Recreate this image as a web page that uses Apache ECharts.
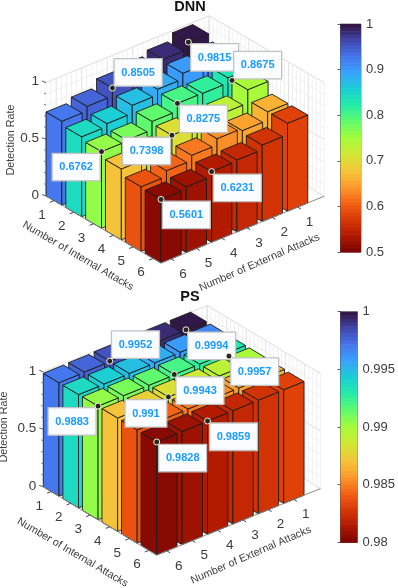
<!DOCTYPE html>
<html>
<head>
<meta charset="utf-8">
<title>Detection rate</title>
<script src="https://cdn.jsdelivr.net/npm/echarts@6/dist/echarts.min.js"></script>
<style>
  html, body { margin: 0; padding: 0; background: #fff; }
  #chart { width: 398px; height: 588px; }
</style>
</head>
<body>
<div id="chart"></div>
<script>
// rows = internal attacks 1..6, columns = external attacks 1..6
const internalAttacks = [1, 2, 3, 4, 5, 6];
const externalAttacks = [1, 2, 3, 4, 5, 6];
const dnnRate = [
  [0.9815, 0.92, 0.88, 0.8505, 0.78, 0.74],
  [0.93, 0.9, 0.85, 0.8, 0.73, 0.705],
  [0.87, 0.825, 0.8275, 0.76, 0.686, 0.6762],
  [0.8675, 0.75, 0.74, 0.7398, 0.67, 0.625],
  [0.775, 0.7, 0.72, 0.665, 0.62, 0.57],
  [0.775, 0.675, 0.634, 0.6231, 0.58, 0.5601]
];
const psRate = [
  [0.9994, 0.998, 0.996, 0.9952, 0.99, 0.987],
  [0.998, 0.996, 0.993, 0.991, 0.988, 0.986],
  [0.996, 0.995, 0.9943, 0.99, 0.989, 0.9883],
  [0.9957, 0.994, 0.992, 0.991, 0.988, 0.987],
  [0.993, 0.991, 0.99, 0.988, 0.986, 0.985],
  [0.989, 0.988, 0.987, 0.9859, 0.984, 0.9828]
];
const rateTicks = [0, 0.5, 1];
const rateMinorTicks = [0.1, 0.2, 0.3, 0.4, 0.6, 0.7, 0.8, 0.9];
// internal, external, label dx, label dy, label width
const dnnTips = [
  [1, 4, 1.7, -29.3, 48], [1, 1, 2.3, 1.6, 48], [4, 1, 1.7, -29, 48], [3, 3, 2, 1.7, 48],
  [4, 4, -49.4, 2, 48], [3, 6, -49.4, 1.7, 48], [6, 4, 1.7, 2.6, 48], [6, 6, 1.3, 1.7, 48]
];
const psTips = [
  [1, 4, 1.7, -30.4, 48], [1, 1, 1.7, 2.3, 48], [4, 1, 1.7, 1.7, 48], [3, 3, 1.7, 2.3, 48],
  [4, 4, -43.3, 2.6, 41.7], [3, 6, -50, 1.6, 48], [6, 4, 2, 2, 48], [6, 6, 2, 2.3, 48]
];

const turbo = ['#30123b', '#4145ab', '#4675ed', '#39a2fc', '#1bcfd4', '#24eca6', '#61fc6c', '#a4fc3b',
  '#d1e834', '#f3c63a', '#fe9b2d', '#f36315', '#d93806', '#b11901', '#7a0403'];
const barWidth = 0.8;
const iMin = 0.6, iMax = 6.4, eMin = -0.05, eMax = 6.4;
const font = '"Liberation Sans", Arial, sans-serif';
const tickColor = '#3c3c3c';

const panels = [
  {
    name: 'DNN', rate: dnnRate, tips: dnnTips, front: [161, 263], ui: [19.83, 11.55], ue: [-25.3, 10.35], zs: 113.5,
    top: 24, bottom: 336, cMin: 0.5, cMax: 1, cStep: 0.1, titleY: -6,
    internalName: [78, 256], externalName: [259.5, 262.5], rateName: [11, 140]
  },
  {
    name: 'PS', rate: psRate, tips: psTips, front: [156.7, 555], ui: [19.55, 11.75], ue: [-25.4, 10.3], zs: 115,
    top: 311.7, bottom: 45.7, cMin: 0.98, cMax: 1, cStep: 0.005, titleY: 284,
    internalName: [72.5, 552.5], externalName: [251, 555], rateName: [4, 427]
  }
];

// oblique view of (internal, external, rate) onto the page
function project(p, i, e, z) {
  return [
    p.front[0] + (i - iMax) * p.ui[0] + (e - eMax) * p.ue[0],
    p.front[1] + (i - iMax) * p.ui[1] + (e - eMax) * p.ue[1] - z * p.zs
  ];
}

function line(a, b, stroke, lineWidth) {
  return {
    type: 'line',
    shape: { x1: a[0], y1: a[1], x2: b[0], y2: b[1] },
    style: { stroke: stroke, lineWidth: lineWidth || 1 }
  };
}

function label(text, pos, size, align, rotation, weight) {
  return {
    type: 'text', x: pos[0], y: pos[1], rotation: rotation || 0,
    style: {
      text: text, fill: tickColor, align: align || 'center', verticalAlign: 'middle',
      font: (weight || 'normal') + ' ' + size + 'px ' + font
    }
  };
}

function wallSeries(p) {
  return {
    type: 'custom', coordinateSystem: 'none', silent: true, animation: false, z: 1,
    data: [[0]],
    renderItem: function () {
      const kids = [];
      for (let z = 0; z <= 10; z++) {
        const c = z % 5 === 0 ? '#dcdcdc' : '#f0f0f0';
        kids.push(line(project(p, iMin, eMax, z / 10), project(p, iMin, eMin, z / 10), c));
        kids.push(line(project(p, iMin, eMin, z / 10), project(p, iMax, eMin, z / 10), c));
      }
      for (let k = 0; k <= 32; k++) {
        const e = eMin + (eMax - eMin) * k / 32;
        kids.push(line(project(p, iMin, e, 0), project(p, iMin, e, 1), k % 5 === 0 ? '#e2e2e2' : '#f0f0f0'));
      }
      for (let k = 0; k <= 29; k++) {
        const i = iMin + (iMax - iMin) * k / 29;
        kids.push(line(project(p, i, eMin, 0), project(p, i, eMin, 1), k % 5 === 0 ? '#e2e2e2' : '#f0f0f0'));
      }
      return { type: 'group', children: kids };
    }
  };
}

function barSeries(p) {
  const data = [];
  internalAttacks.forEach(function (i, r) {
    externalAttacks.forEach(function (e, c) {
      data.push([i, e, p.rate[r][c]]);
    });
  });
  return {
    type: 'custom', coordinateSystem: 'none', silent: true, animation: false, z: 2,
    data: data,
    renderItem: function (params, api) {
      const i = api.value(0), e = api.value(1), z = api.value(2), h = barWidth / 2;
      const fill = echarts.color.lerp(((i - 1) * 6 + (e - 1) + 0.3) / 36, turbo);
      const b = [project(p, i - h, e + h, 0), project(p, i + h, e + h, 0), project(p, i + h, e - h, 0)];
      const t = [project(p, i - h, e + h, z), project(p, i + h, e + h, z), project(p, i + h, e - h, z), project(p, i - h, e - h, z)];
      const edge = { fill: fill, stroke: '#1c1c1c', lineWidth: 0.9 };
      return {
        type: 'group',
        children: [
          { type: 'polygon', shape: { points: [b[0], b[1], t[1], t[0]] }, style: edge },
          { type: 'polygon', shape: { points: [b[1], b[2], t[2], t[1]] }, style: edge },
          { type: 'polygon', shape: { points: t }, style: edge }
        ]
      };
    }
  };
}

function axisSeries(p) {
  return {
    type: 'custom', coordinateSystem: 'none', silent: true, animation: false, z: 3,
    data: [[0]],
    renderItem: function () {
      const kids = [];
      const leftFoot = project(p, iMin, eMax, 0);
      rateTicks.forEach(function (v) {
        const a = project(p, iMin, eMax, v);
        kids.push(line(a, [a[0] - 4, a[1] - 1.5], '#555'));
        kids.push(label(String(v), [a[0] - 7, a[1] - 1], 13.5, 'right'));
      });
      rateMinorTicks.forEach(function (v) {
        const a = project(p, iMin, eMax, v);
        kids.push(line(a, [a[0] - 2, a[1] - 1], '#777'));
      });
      kids.push(line(leftFoot, project(p, iMax, eMax, 0), '#8a8a8a'));
      kids.push(line(project(p, iMax, eMax, 0), project(p, iMax, eMin, 0), '#8a8a8a'));
      internalAttacks.forEach(function (i) {
        const a = project(p, i, eMax, 0);
        kids.push(line(a, project(p, i, eMax + 0.16, 0), '#444'));
        kids.push(label(String(i), [a[0] - 12, a[1] + 14.4], 13.5));
      });
      externalAttacks.forEach(function (e) {
        const a = project(p, iMax, e, 0);
        kids.push(line(a, project(p, iMax + 0.16, e, 0), '#444'));
        kids.push(label(String(e), [a[0] + 12, a[1] + 15], 13.5));
      });
      kids.push(label('Number of Internal Attacks', p.internalName, 10.7, 'center', -0.53));
      kids.push(label('Number of External Attacks', p.externalName, 10.7, 'center', 0.41));
      kids.push(label('Detection Rate', p.rateName, 10.7, 'center', Math.PI / 2));
      return { type: 'group', children: kids };
    }
  };
}

function tipSeries(p) {
  return {
    type: 'custom', coordinateSystem: 'none', silent: true, animation: false, z: 4,
    data: p.tips,
    renderItem: function (params, api) {
      const i = api.value(0), e = api.value(1), dx = api.value(2), dy = api.value(3), w = api.value(4);
      const v = p.rate[i - 1][e - 1], h = barWidth / 2;
      // the (4, 1) tip in the figure sits on the left corner of the bar top
      const m = e === 1 && i === 4 ? project(p, i - h, e + h, v) : project(p, i + h, e + h, v);
      return {
        type: 'group',
        children: [
          {
            type: 'rect',
            shape: { x: m[0] + dx, y: m[1] + dy, width: w, height: 27.5 },
            style: { fill: '#fbfcff', stroke: '#c2c2c2', lineWidth: 1.3 }
          },
          {
            type: 'text',
            style: {
              x: m[0] + dx + w / 2, y: m[1] + dy + 14, text: String(v), fill: '#1a9bff',
              align: 'center', verticalAlign: 'middle', font: 'bold 11px ' + font
            }
          },
          {
            type: 'circle',
            shape: { cx: m[0], cy: m[1], r: 3 },
            style: { fill: '#262626', stroke: '#f5f3da', lineWidth: 1 }
          }
        ]
      };
    }
  };
}

const grid = [], xAxis = [], yAxis = [], series = [], title = [];
panels.forEach(function (p, n) {
  title.push({
    text: p.name, left: 185, top: p.titleY, textAlign: 'center',
    textStyle: { fontFamily: font, fontWeight: 'bold', fontSize: 14.5, color: '#111' }
  });
  grid.push({
    left: 340.5, width: 20.5, top: p.top, bottom: p.bottom,
    show: true, backgroundColor: 'transparent', borderColor: '#333', borderWidth: 0.6
  });
  xAxis.push({ gridIndex: n, type: 'value', min: 0, max: 1, show: false });
  yAxis.push({
    gridIndex: n, type: 'value', position: 'right', min: p.cMin, max: p.cMax, interval: p.cStep,
    axisLine: { show: true, lineStyle: { color: '#333', width: 0.6 } },
    axisTick: { show: true, inside: true, length: 3, lineStyle: { color: '#333', width: 0.8 } },
    splitLine: { show: false },
    axisLabel: {
      margin: 5, fontFamily: font, fontSize: 13, color: tickColor,
      formatter: function (v) { return String(+v.toFixed(3)); }
    }
  });
  const levels = [];
  for (let k = 0; k < 64; k++) levels.push([k]);
  series.push({
    type: 'custom', xAxisIndex: n, yAxisIndex: n, silent: true, animation: false, z: 1,
    encode: { x: -1, y: -1 },
    data: levels,
    renderItem: function (params, api) {
      const k = api.value(0), span = p.cMax - p.cMin;
      const a = api.coord([0, p.cMax - span * k / 64]);
      const b = api.coord([1, p.cMax - span * (k + 1) / 64]);
      return {
        type: 'rect',
        shape: { x: a[0], y: a[1], width: b[0] - a[0], height: b[1] - a[1] + 0.6 },
        style: { fill: echarts.color.lerp((k + 0.5) / 64, turbo) }
      };
    }
  });
  series.push(wallSeries(p), barSeries(p), axisSeries(p), tipSeries(p));
});

const chart = echarts.init(document.getElementById('chart'));
chart.setOption({
  animation: false,
  backgroundColor: '#fff',
  title: title,
  grid: grid,
  xAxis: xAxis,
  yAxis: yAxis,
  series: series
});
</script>
</body>
</html>
